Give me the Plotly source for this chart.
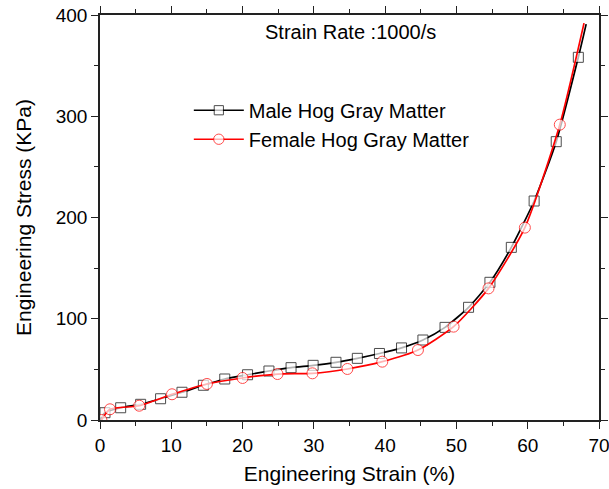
import plotly.graph_objects as go

# Male hog gray matter (strain %, stress KPa); first/last entries are line ends without markers
male_strain = [0.0, 0.7, 2.9, 5.7, 8.5, 11.5, 14.5, 17.5, 20.7, 23.7, 26.8, 29.9, 33.1, 36.1,
               39.2, 42.3, 45.3, 48.4, 51.7, 54.7, 57.7, 60.9, 64.0, 67.1, 68.2]
male_stress = [0.0, 7.2, 12.1, 15.5, 21.0, 27.4, 34.3, 40.5, 44.7, 48.4, 51.7, 54.0, 57.0, 60.9,
               65.7, 71.2, 79.0, 91.5, 111.3, 136.0, 170.5, 216.3, 274.9, 358.2, 391.0]
male_has_marker = [False] + [True] * 23 + [False]

# Female hog gray matter
female_strain = [0.2, 1.4, 5.5, 10.1, 15.0, 20.0, 24.9, 29.8, 34.7, 39.6, 44.6, 49.6,
                 54.5, 59.6, 64.5, 67.9]
female_stress = [0.0, 10.6, 14.1, 25.4, 35.6, 41.5, 45.4, 46.1, 50.4, 57.6, 69.1, 92.2,
                 130.0, 190.0, 291.7, 392.0]
female_has_marker = [True] * 15 + [False]

x_ticks = [0, 10, 20, 30, 40, 50, 60, 70]
y_ticks = [0, 100, 200, 300, 400]

FONT = "Liberation Sans, Arial, sans-serif"

fig = go.Figure()
fig.add_trace(go.Scatter(
    x=male_strain, y=male_stress, mode="lines+markers", name="Male Hog Gray Matter",
    line=dict(color="black", width=1.7, shape="spline", smoothing=0.6),
    marker=dict(symbol="square", size=[10 if m else 0 for m in male_has_marker],
                color="white", line=dict(color="black", width=1)),
))
fig.add_trace(go.Scatter(
    x=female_strain, y=female_stress, mode="lines+markers", name="Female Hog Gray Matter",
    line=dict(color="red", width=1.7, shape="spline", smoothing=0.6),
    marker=dict(symbol="circle", size=[11 if m else 0 for m in female_has_marker],
                color="white", line=dict(color="red", width=1)),
))

axis_common = dict(
    showgrid=False, zeroline=False, showline=True, linecolor="#222", linewidth=1.5,
    ticks="outside", ticklen=7, tickwidth=1.2, tickcolor="#222", mirror="ticks",
    tickfont=dict(family=FONT, size=19, color="black"), automargin=False,
    ticklabeloverflow="allow",
)

fig.update_layout(
    width=609, height=489,
    margin=dict(l=100, r=10, t=15, b=69),
    paper_bgcolor="white", plot_bgcolor="white",
    font=dict(family=FONT, size=19, color="black"),
    xaxis=dict(range=[0, 70], tickvals=x_ticks,
               minor=dict(dtick=5, ticks="outside", ticklen=4, tickcolor="#222", tickwidth=1.2),
               title=dict(text="Engineering Strain (%)", font=dict(family=FONT, size=21), standoff=12),
               **axis_common),
    yaxis=dict(range=[0, 400], tickvals=y_ticks,
               minor=dict(dtick=50, ticks="outside", ticklen=4, tickcolor="#222", tickwidth=1.2),
               title=dict(text="Engineering Stress (KPa)", font=dict(family=FONT, size=21), standoff=18),
               **axis_common),
    legend=dict(x=0.178, y=0.813, xanchor="left", yanchor="top", bgcolor="rgba(0,0,0,0)",
                font=dict(family=FONT, size=20), tracegroupgap=0, itemwidth=50),
    annotations=[dict(text="Strain Rate :1000/s", x=0.503, y=0.958, xref="paper", yref="paper",
                      xanchor="center", yanchor="middle",
                      showarrow=False, font=dict(family=FONT, size=20))],
)

fig.write_html("out.html")
